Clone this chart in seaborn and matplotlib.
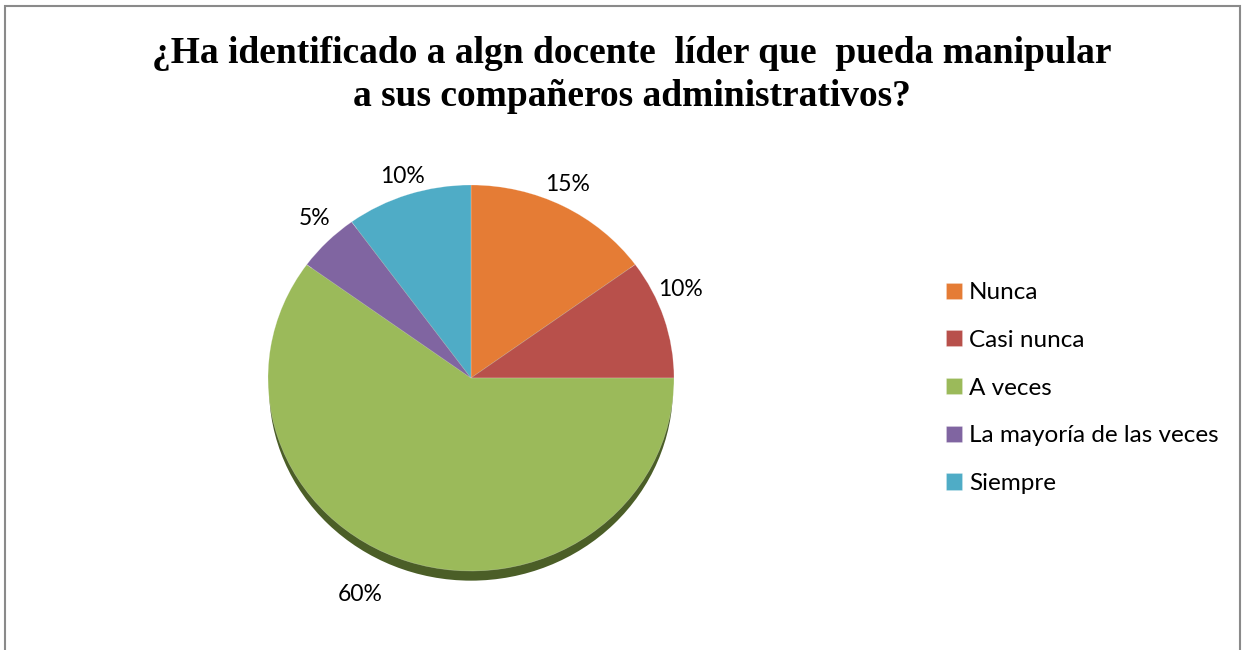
import numpy as np
import matplotlib
matplotlib.use("Agg")
import matplotlib.pyplot as plt
from matplotlib.patches import Ellipse, Rectangle
import seaborn as sns

# Survey answers and their shares (%)
categories = ["Nunca", "Casi nunca", "A veces", "La mayoría de las veces", "Siempre"]
shares = [15, 10, 60, 5, 10]
slice_colors = ["#E57C35", "#B8504B", "#9BBA5A", "#8065A1", "#4FACC6"]
title_text = "¿Ha identificado a algn docente  líder que  pueda manipular\na sus compañeros administrativos?"

sns.set_theme(style="white")
plt.rcParams["font.family"] = ["Lato", "DejaVu Sans"]
plt.rcParams["text.color"] = "black"

W, H = 1248, 650
fig = plt.figure(figsize=(W / 100, H / 100), dpi=100)
fig.patch.set_facecolor("white")

# chart frame
fig.patches.append(Rectangle((5 / W, -0.02), (1240 - 5) / W, (H - 6) / H + 0.02,
                             transform=fig.transFigure, fill=False,
                             edgecolor="#8A8A8A", linewidth=1.5, zorder=0))

# pie axes: slightly flattened ellipse (3D tilt look)
cx, cy, rx, ry = 471, 378, 203, 193
ax = fig.add_axes([(cx - rx) / W, (H - cy - ry) / H, 2 * rx / W, 2 * ry / H])

# dark rim below the pie
ax.add_patch(Ellipse((0.0, -0.05), 1.99, 2.0, facecolor="#4B5E27",
                     edgecolor="none", zorder=0, clip_on=False))

wedges, _ = ax.pie(shares, colors=slice_colors, startangle=90, counterclock=False,
                   radius=1.0, wedgeprops=dict(linewidth=0.4, edgecolor=(1, 1, 1, 0.35)))
for w in wedges:
    w.set_clip_on(False)
ax.set_aspect("auto")
ax.set_xlim(-1, 1)
ax.set_ylim(-1, 1)
ax.axis("off")

# percentage labels placed just outside each slice
label_dist = [1.11, 1.13, 1.25, 1.13, 1.10]
label_turn = [1.5, 6.0, -8.0, -2.0, 0.0]
for w, v, d, t in zip(wedges, shares, label_dist, label_turn):
    mid = np.deg2rad((w.theta1 + w.theta2) / 2 + t)
    ax.text(d * np.cos(mid), d * np.sin(mid), f"{v}%", ha="center", va="center",
            fontsize=16.5, color="black", clip_on=False)

fig.text(632 / W, (H - 75) / H, title_text, ha="center", va="center",
         fontsize=27, fontweight="bold", color="black",
         family=["Liberation Serif", "DejaVu Serif"], linespacing=1.3)

leg = fig.legend(wedges, categories, loc="upper left",
                 bbox_to_anchor=(934 / W, (H - 270) / H), frameon=False,
                 fontsize=17.5, handlelength=0.65, handleheight=0.65,
                 handletextpad=0.3, labelspacing=1.1, borderpad=0,
                 labelcolor="black")

fig.savefig("out.png", dpi=100, facecolor="white")
